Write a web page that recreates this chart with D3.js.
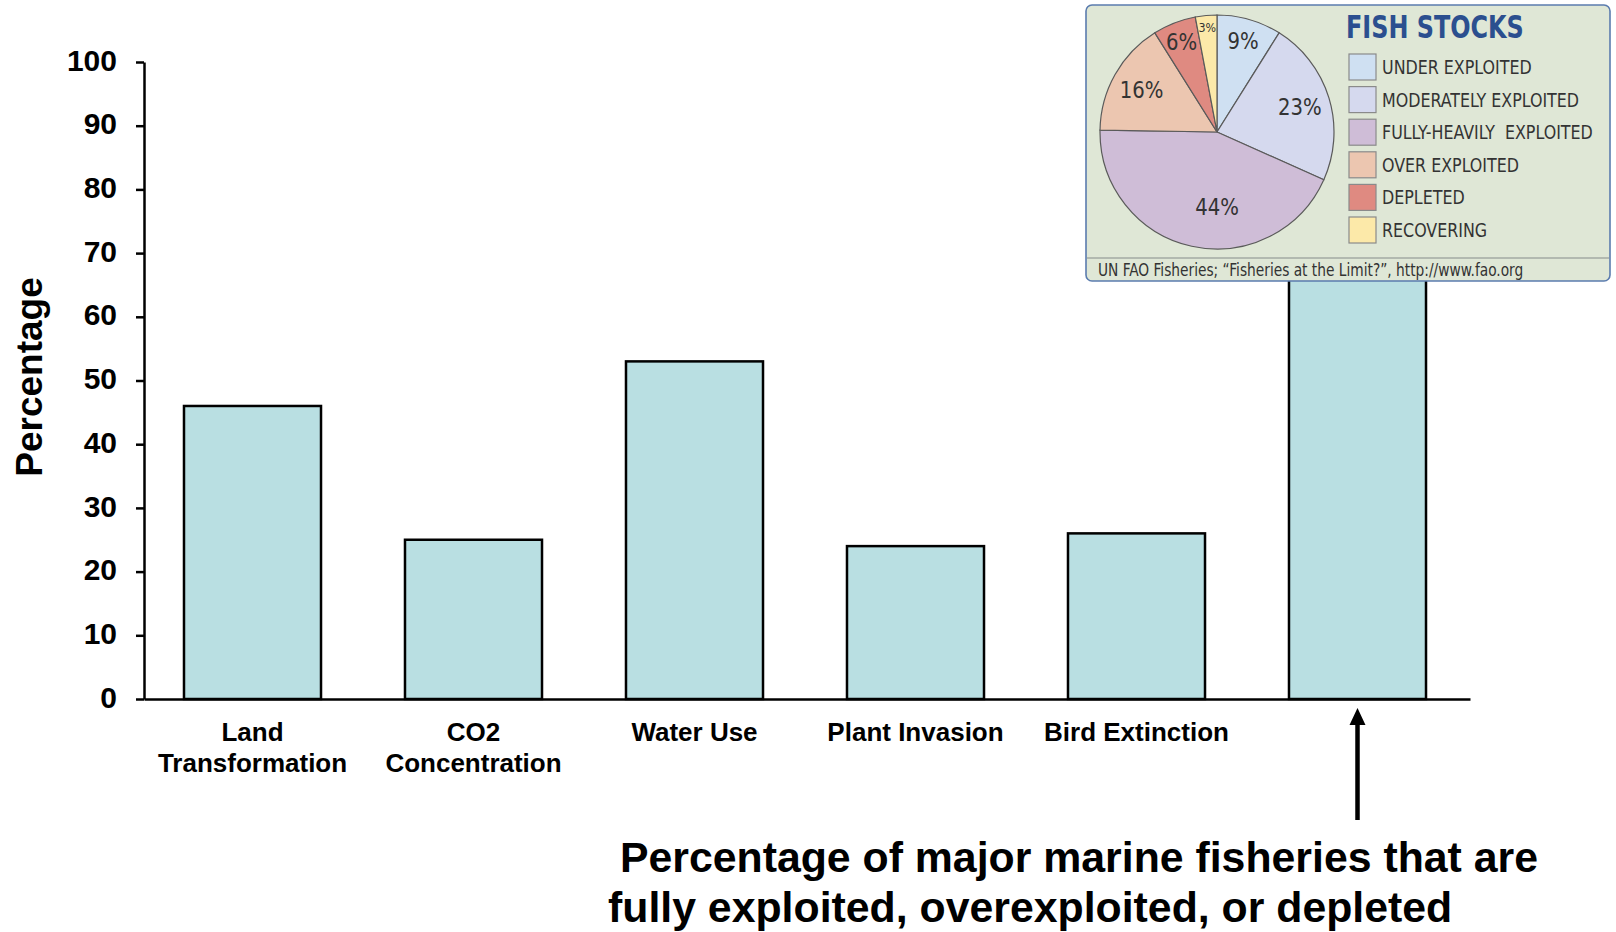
<!DOCTYPE html>
<html>
<head>
<meta charset="utf-8">
<script src="https://cdn.jsdelivr.net/npm/d3@7"></script>
<style>
  html, body { margin: 0; padding: 0; background: #ffffff; }
  svg { display: block; }
  .axis text { font-family: "Liberation Sans", Arial, sans-serif; font-weight: bold; fill: #000; }
  .inset text { font-family: "Liberation Sans Narrow", "Arial Narrow", "DejaVu Sans Condensed", sans-serif; }
</style>
</head>
<body>
<svg id="chart" width="1616" height="932"></svg>
<script>
// Bar chart: share of each resource / system transformed by people (%)
const categories = ["Land Transformation", "CO2 Concentration", "Water Use", "Plant Invasion", "Bird Extinction", "Marine Fisheries"];
const categoryLines = [["Land", "Transformation"], ["CO2", "Concentration"], ["Water Use"], ["Plant Invasion"], ["Bird Extinction"], []];
const percentages = [46, 25, 53, 24, 26, 66];
const yTicks = [0, 10, 20, 30, 40, 50, 60, 70, 80, 90, 100];

// Inset pie: state of world fish stocks
const stockLabels = ["UNDER EXPLOITED", "MODERATELY EXPLOITED", "FULLY-HEAVILY  EXPLOITED", "OVER EXPLOITED", "DEPLETED", "RECOVERING"];
const stockShares = [9, 23, 44, 16, 6, 3];
const stockColors = ["#cfe0f2", "#d5d9ee", "#cfbdd7", "#ecc6b0", "#df8a81", "#fce9a9"];

const annotationLines = [" Percentage of major marine fisheries that are", "fully exploited, overexploited, or depleted"];

const svg = d3.select("#chart");

const x = d3.scaleBand().domain(categories).range([142, 1468]).paddingInner(0.38).paddingOuter(0.19);
const y = d3.scaleLinear().domain([0, 100]).range([699, 62]);

// bars
svg.append("g").selectAll("rect")
  .data(categories)
  .join("rect")
  .attr("x", d => x(d))
  .attr("width", x.bandwidth())
  .attr("y", (d, i) => y(percentages[i]))
  .attr("height", (d, i) => y(0) - y(percentages[i]))
  .attr("fill", "#b9dfe2")
  .attr("stroke", "#000")
  .attr("stroke-width", 2.5);

// y axis
const yAxis = svg.append("g").attr("class", "axis")
  .attr("transform", `translate(${x.range()[0] + 2},0)`)
  .call(d3.axisLeft(y).tickValues(yTicks).tickSize(8).tickSizeOuter(0).tickPadding(19));
yAxis.selectAll("text").attr("font-size", 30).attr("dy", "0.27em");
yAxis.selectAll("line, path").attr("stroke", "#000").attr("stroke-width", 2.5);

// x axis
const xAxis = svg.append("g").attr("class", "axis")
  .attr("transform", `translate(2,${y(0)})`)
  .call(d3.axisBottom(x).tickSize(0).tickSizeOuter(0).tickFormat(""));
xAxis.selectAll("path").attr("stroke", "#000").attr("stroke-width", 2.5);

// category labels (two lines where needed)
const catG = svg.append("g").attr("class", "axis");
categories.forEach((c, i) => {
  const cx = x(c) + x.bandwidth() / 2;
  const t = catG.append("text")
    .attr("x", cx)
    .attr("y", 741)
    .attr("text-anchor", "middle")
    .attr("font-size", 26);
  categoryLines[i].forEach((ln, j) => {
    t.append("tspan").attr("x", cx).attr("dy", j === 0 ? 0 : 31).text(ln);
  });
});

// y axis title
svg.append("text")
  .attr("transform", "translate(42,377) rotate(-90)")
  .attr("text-anchor", "middle")
  .attr("font-family", "'Liberation Sans', Arial, sans-serif")
  .attr("font-weight", "bold")
  .attr("font-size", 37)
  .text("Percentage");

// arrow pointing at the fisheries bar
const fishX = x(categories[5]) + x.bandwidth() / 2;
svg.append("line")
  .attr("x1", fishX).attr("x2", fishX)
  .attr("y1", 820).attr("y2", 722)
  .attr("stroke", "#000").attr("stroke-width", 4.5);
svg.append("path")
  .attr("d", `M${fishX},708 L${fishX - 8},725 L${fishX + 8},725 Z`)
  .attr("fill", "#000");

// annotation
const ann = svg.append("text")
  .attr("font-family", "'Liberation Sans', Arial, sans-serif")
  .attr("font-weight", "bold")
  .attr("font-size", 42.8)
  .attr("fill", "#000")
  .style("white-space", "pre");
ann.append("tspan").attr("x", 608).attr("y", 872).text(annotationLines[0]);
ann.append("tspan").attr("x", 608).attr("y", 922).text(annotationLines[1]);

// ---- inset: fish stocks ----
const inset = svg.append("g").attr("class", "inset");
inset.append("rect")
  .attr("x", 1086).attr("y", 5).attr("width", 524).attr("height", 276)
  .attr("rx", 6)
  .attr("fill", "#dfe7d6")
  .attr("stroke", "#5b7cae")
  .attr("stroke-width", 1.6);
inset.append("line")
  .attr("x1", 1087).attr("x2", 1609).attr("y1", 258).attr("y2", 258)
  .attr("stroke", "#a3aaa3").attr("stroke-width", 1.5);

const pieR = 117;
const pieG = inset.append("g").attr("transform", "translate(1217,132)");
const pie = d3.pie().sort(null).value(d => d)(stockShares);
const arc = d3.arc().innerRadius(0).outerRadius(pieR);
pieG.selectAll("path")
  .data(pie)
  .join("path")
  .attr("d", arc)
  .attr("fill", (d, i) => stockColors[i])
  .attr("stroke", "#5a5a5a")
  .attr("stroke-width", 1.2);

// label placement: radial fraction per slice, smaller slices pushed outward
const labelFrac = [0.81, 0.74, 0.64, 0.74, 0.83, 0.9];
pieG.selectAll("text")
  .data(pie)
  .join("text")
  .attr("transform", (d, i) => {
    let a = (d.startAngle + d.endAngle) / 2;
    if (i === 2) a = Math.PI;
    const r = pieR * labelFrac[i];
    return `translate(${r * Math.sin(a)},${-r * Math.cos(a)}) scale(0.95,1)`;
  })
  .attr("text-anchor", "middle")
  .attr("dy", "0.36em")
  .attr("font-size", (d, i) => stockShares[i] < 5 ? 13 : 23)
  .attr("fill", "#333")
  .text((d, i) => stockShares[i] + "%");

inset.append("text")
  .attr("transform", "translate(1346,38) scale(0.83,1)")
  .attr("font-size", 32)
  .attr("font-weight", "bold")
  .attr("fill", "#2b4f8f")
  .text("FISH STOCKS");

const legend = inset.append("g").selectAll("g")
  .data(stockLabels)
  .join("g")
  .attr("transform", (d, i) => `translate(1349,${54 + i * 32.6})`);
legend.append("rect")
  .attr("width", 27).attr("height", 26)
  .attr("fill", (d, i) => stockColors[i])
  .attr("stroke", "#8a8a8a").attr("stroke-width", 1.2);
legend.append("text")
  .attr("transform", "translate(33,20) scale(0.93,1)")
  .attr("font-size", 19)
  .attr("fill", "#333")
  .style("white-space", "pre")
  .text(d => d);

inset.append("text")
  .attr("transform", "translate(1098,276) scale(0.9,1)")
  .attr("font-size", 17)
  .attr("fill", "#333")
  .text("UN FAO Fisheries; \u201cFisheries at the Limit?\u201d, http://www.fao.org");
</script>
</body>
</html>
